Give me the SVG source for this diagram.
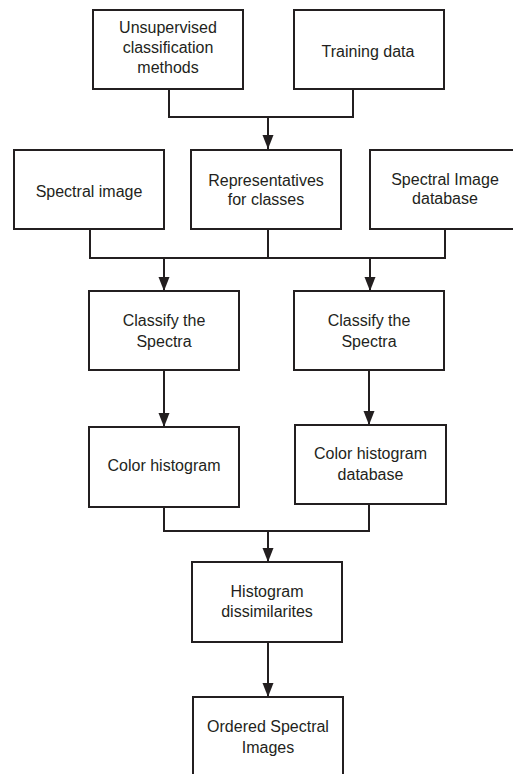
<svg xmlns="http://www.w3.org/2000/svg" width="513" height="774" viewBox="0 0 513 774">
<style>
.box{fill:#fff;stroke:#231f20;stroke-width:2}
.ln{fill:none;stroke:#231f20;stroke-width:2}
text{font-family:"Liberation Sans",Arial,sans-serif;font-size:16px;fill:#231f20;text-anchor:middle}
</style>
<defs>
<marker id="arr" markerUnits="userSpaceOnUse" markerWidth="14" markerHeight="12" refX="14" refY="6" orient="auto" viewBox="0 0 14 12">
<path d="M0,0.5 L14,6 L0,11.5 z" fill="#231f20"/>
</marker>
</defs>
<rect width="513" height="774" fill="#fff"/>
<g id="connectors">
<path class="ln" d="M169,89 V117 H353 V89"/>
<path class="ln" d="M268,117 V149" marker-end="url(#arr)"/>
<path class="ln" d="M90,229 V258 H445 V229"/>
<path class="ln" d="M268,229 V258"/>
<path class="ln" d="M164,258 V291" marker-end="url(#arr)"/>
<path class="ln" d="M370,258 V291" marker-end="url(#arr)"/>
<path class="ln" d="M164,370 V427" marker-end="url(#arr)"/>
<path class="ln" d="M369,370 V425" marker-end="url(#arr)"/>
<path class="ln" d="M164,507 V531 H369 V504"/>
<path class="ln" d="M268,531 V562" marker-end="url(#arr)"/>
<path class="ln" d="M268,642 V697" marker-end="url(#arr)"/>
</g>
<g id="n-unsupervised">
<rect class="box" x="93" y="10" width="150" height="79"/>
<text x="168" y="32.5">Unsupervised</text>
<text x="168" y="53">classification</text>
<text x="168" y="73">methods</text>
</g>
<g id="n-training">
<rect class="box" x="294" y="10" width="150" height="79"/>
<text x="368" y="57">Training data</text>
</g>
<g id="n-spectral-image">
<rect class="box" x="14" y="150" width="150" height="79"/>
<text x="89" y="197">Spectral image</text>
</g>
<g id="n-representatives">
<rect class="box" x="191" y="150" width="150" height="79"/>
<text x="266" y="186">Representatives</text>
<text x="266" y="205">for classes</text>
</g>
<g id="n-spectral-db">
<rect class="box" x="370" y="150" width="150" height="79"/>
<text x="445" y="185">Spectral Image</text>
<text x="445" y="204">database</text>
</g>
<g id="n-classify-left">
<rect class="box" x="89" y="291" width="150" height="79"/>
<text x="164" y="326">Classify the</text>
<text x="164" y="346.5">Spectra</text>
</g>
<g id="n-classify-right">
<rect class="box" x="294" y="291" width="150" height="79"/>
<text x="369" y="326">Classify the</text>
<text x="369" y="346.5">Spectra</text>
</g>
<g id="n-color-hist">
<rect class="box" x="89" y="427" width="150" height="80"/>
<text x="164" y="471">Color histogram</text>
</g>
<g id="n-color-hist-db">
<rect class="box" x="295" y="425" width="151" height="79"/>
<text x="370.5" y="459">Color histogram</text>
<text x="370.5" y="480">database</text>
</g>
<g id="n-dissimilarities">
<rect class="box" x="192" y="562" width="150" height="80"/>
<text x="267" y="597">Histogram</text>
<text x="267" y="617">dissimilarites</text>
</g>
<g id="n-ordered">
<rect class="box" x="193" y="697" width="150" height="80"/>
<text x="268" y="732">Ordered Spectral</text>
<text x="268" y="753">Images</text>
</g>
</svg>
